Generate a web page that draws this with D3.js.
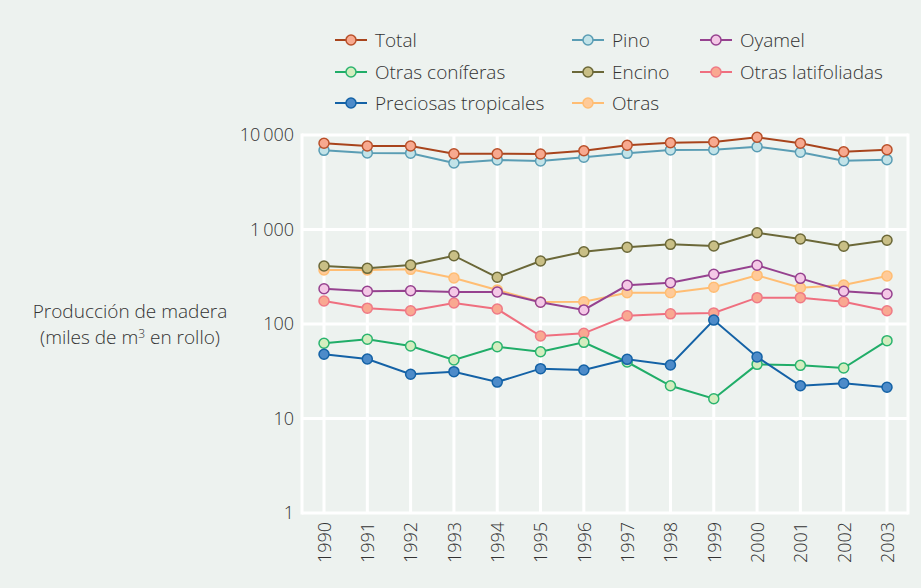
<!DOCTYPE html>
<html>
<head>
<meta charset="utf-8">
<script src="https://cdn.jsdelivr.net/npm/d3@7"></script>
<style>
  html, body { margin: 0; padding: 0; background: #edf2ef; }
  svg text { font-family: "Open Sans", sans-serif; font-weight: 300; fill: #333; }
</style>
</head>
<body>
<div id="chart"></div>
<script>
// Años (eje x)
const years = [1990, 1991, 1992, 1993, 1994, 1995, 1996, 1997, 1998, 1999, 2000, 2001, 2002, 2003];

// Series, miles de m3 en rollo
const total = [8170, 7650, 7650, 6340, 6340, 6300, 6820, 7780, 8290, 8430, 9460, 8170, 6650, 6990];
const pino = [6880, 6450, 6420, 5060, 5440, 5310, 5810, 6400, 6940, 6990, 7520, 6560, 5350, 5480];
const oyamel = [236, 222, 225, 218, 218, 170, 141, 257, 274, 336, 418, 304, 222, 208];
const otrasConiferas = [62.5, 68.9, 58.5, 41.6, 57.5, 50.9, 64, 39.6, 22.2, 16.2, 37.4, 36.5, 34.2, 66.6];
const encino = [411, 388, 421, 528, 312, 464, 582, 648, 697, 669, 925, 793, 664, 769];
const otrasLatifoliadas = [175, 147, 138, 167, 144, 74.6, 79.7, 122, 128, 131, 190, 190, 172, 138];
const preciosasTropicales = [47.8, 42.6, 29.4, 31.3, 24.3, 33.7, 32.6, 42.3, 36.8, 110, 44.8, 22.2, 23.6, 21.4];
const otras = [373, 373, 379, 307, 229, 171, 172, 214, 214, 245, 327, 242, 259, 322];

const yTicks = [1, 10, 100, 1000, 10000];

// nombre, valores, color de línea, relleno del marcador, borde del marcador
const series = [
  {name: "Total", values: total, line: "#a8441c", fill: "#f7a98f", stroke: "#b9502a"},
  {name: "Pino", values: pino, line: "#5a9db4", fill: "#c2e3e8", stroke: "#5a9db4"},
  {name: "Oyamel", values: oyamel, line: "#96428f", fill: "#f4c8e6", stroke: "#96428f"},
  {name: "Otras coníferas", values: otrasConiferas, line: "#20ad68", fill: "#d4edbf", stroke: "#2bb46f"},
  {name: "Encino", values: encino, line: "#6b6838", fill: "#c9bf86", stroke: "#6b6838"},
  {name: "Otras latifoliadas", values: otrasLatifoliadas, line: "#ef6f7f", fill: "#f9a891", stroke: "#ef7a86"},
  {name: "Preciosas tropicales", values: preciosasTropicales, line: "#1462a6", fill: "#4d8bc9", stroke: "#1462a6"},
  {name: "Otras", values: otras, line: "#ffbd73", fill: "#ffca98", stroke: "#ffbd73"}
];

// orden de dibujo (de atrás hacia delante)
const drawOrder = ["Otras", "Otras latifoliadas", "Oyamel", "Encino", "Otras coníferas", "Preciosas tropicales", "Pino", "Total"];

const width = 921, height = 588;
const plot = {left: 302, right: 908, top: 135, bottom: 513};

const svg = d3.select("#chart").append("svg")
  .attr("width", width)
  .attr("height", height);

const x = d3.scalePoint()
  .domain(years)
  .range([324, 887]);

const y = d3.scaleLog()
  .domain([1, 10000])
  .range([plot.bottom, plot.top]);

const fmt = v => d3.format(",")(v).replace(/,/g, "\u2009");

// Rejilla
const grid = svg.append("g");
grid.selectAll("line.h").data(yTicks).join("line")
  .attr("x1", plot.left).attr("x2", plot.right)
  .attr("y1", d => y(d)).attr("y2", d => y(d))
  .attr("stroke", "#fff").attr("stroke-width", 3);
grid.selectAll("line.v").data(years).join("line")
  .attr("x1", d => x(d)).attr("x2", d => x(d))
  .attr("y1", plot.top).attr("y2", plot.bottom)
  .attr("stroke", "#fff").attr("stroke-width", 3);
grid.selectAll("line.e").data([plot.left, plot.right]).join("line")
  .attr("x1", d => d).attr("x2", d => d)
  .attr("y1", plot.top - 1.5).attr("y2", plot.bottom + 1.5)
  .attr("stroke", "#fff").attr("stroke-width", 3);

// Eje y
const yAxis = svg.append("g")
  .attr("transform", "translate(" + plot.left + ",0)")
  .call(d3.axisLeft(y).tickValues(yTicks).tickFormat(fmt).tickSize(0).tickPadding(8));
yAxis.select(".domain").remove();
yAxis.selectAll("text")
  .style("font-size", "18px")
  .style("font-family", "\"Open Sans\", sans-serif")
  .style("font-weight", 300)
  .attr("fill", "#333");

// Eje x
const xAxis = svg.append("g")
  .attr("transform", "translate(0," + plot.bottom + ")")
  .call(d3.axisBottom(x).tickSize(0).tickPadding(0));
xAxis.select(".domain").remove();
xAxis.selectAll("text")
  .attr("transform", "rotate(-90)")
  .attr("x", -9)
  .attr("y", 0)
  .attr("dy", "0.35em")
  .style("text-anchor", "end")
  .style("font-size", "18px")
  .style("font-family", "\"Open Sans\", sans-serif")
  .style("font-weight", 300)
  .attr("fill", "#333");

// Título del eje y
const title = svg.append("text")
  .attr("text-anchor", "middle")
  .style("font-size", "19px");
title.append("tspan").attr("x", 130).attr("y", 318).text("Producción de madera");
const t2 = title.append("tspan").attr("x", 130).attr("y", 344);
t2.append("tspan").text("(miles de m");
t2.append("tspan").attr("dy", -6).style("font-size", "12px").text("3");
t2.append("tspan").attr("dy", 6).text(" en rollo)");

// Líneas y marcadores
const line = d3.line()
  .x((d, i) => x(years[i]))
  .y(d => y(d));

const ordered = drawOrder.map(n => series.find(s => s.name === n));
const g = svg.append("g");
ordered.forEach(s => {
  g.append("path")
    .attr("d", line(s.values))
    .attr("fill", "none")
    .attr("stroke", s.line)
    .attr("stroke-width", 2);
  g.selectAll(null).data(s.values).join("circle")
    .attr("cx", (d, i) => x(years[i]))
    .attr("cy", d => y(d))
    .attr("r", 5)
    .attr("fill", s.fill)
    .attr("stroke", s.stroke)
    .attr("stroke-width", 1.5);
});

// Leyenda
const legendCols = [335, 572, 700];
const legendRows = [40, 72, 103];
const legendPos = [[0, 0], [1, 0], [2, 0], [0, 1], [1, 1], [2, 1], [0, 2], [1, 2]];
const legend = svg.append("g");
series.forEach((s, i) => {
  const lx = legendCols[legendPos[i][0]], ly = legendRows[legendPos[i][1]];
  const item = legend.append("g").attr("transform", "translate(" + lx + "," + ly + ")");
  item.append("line").attr("x1", 0).attr("x2", 32).attr("y1", 0).attr("y2", 0)
    .attr("stroke", s.line).attr("stroke-width", 2);
  item.append("circle").attr("cx", 16).attr("cy", 0).attr("r", 5)
    .attr("fill", s.fill).attr("stroke", s.stroke).attr("stroke-width", 1.5);
  item.append("text").attr("x", 40).attr("y", 0).attr("dy", "0.35em")
    .style("font-size", "19px").text(s.name);
});
</script>
</body>
</html>
